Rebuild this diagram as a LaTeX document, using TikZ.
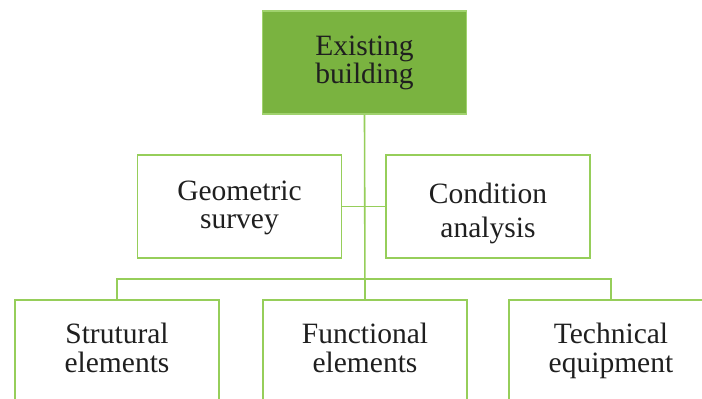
\documentclass[tikz,border=0pt]{standalone}
\usepackage{fontspec}
\setmainfont{Liberation Serif}
\begin{document}
\begin{tikzpicture}[x=1pt,y=-1pt,
  every node/.style={text=black!88},
  frame/.style={draw=edgegreen, line width=1.6pt, fill=white, rectangle,
    minimum width=204pt, minimum height=103pt, inner sep=0pt},
  rootbox/.style={frame, fill=rootgreen, draw=rootedge},
  label/.style={align=center, inner sep=0pt, text height=40pt, text depth=0pt,
    font=\fontsize{29.5}{#1}\selectfont},
  label/.default=28,
  wire/.style={draw=edgegreen, line width=1.6pt}]
\definecolor{edgegreen}{RGB}{150,206,90}
\definecolor{rootgreen}{RGB}{122,179,64}
\definecolor{rootedge}{RGB}{160,210,110}
\useasboundingbox (0,0) rectangle (702,399);
\clip (0,0) rectangle (702,399);
\fill[white] (0,0) rectangle (702,399);

% top of the hierarchy
\node[rootbox] (root) at (364.5,62.5) {};
\node[label] (roottxt) at (364.5,63) {Existing\\building};

% second level: survey and analysis
\node[frame] (geo) at (239.5,206.5) {};
\node[label] (geotxt) at (239.5,208) {Geometric\\survey};
\node[frame] (cond) at (488,206.5) {};
\node[label=34] (condtxt) at (488,217) {Condition\\analysis};

% third level: building elements
\node[frame] (strut) at (117,351.5) {};
\node[label=29] (struttxt) at (117,352) {Strutural\\elements};
\node[frame] (func) at (365,351.5) {};
\node[label=29] (functxt) at (365,352) {Functional\\elements};
\node[frame] (tech) at (611,351.5) {};
\node[label=29] (techtxt) at (611,352) {Technical\\equipment};

% connectors
\draw[wire] (root.south) -- (func.north);
\draw[wire] (geo.east) -- (cond.west);
\draw[wire] (strut.north) -- ++(0,-20) -| (tech.north);
\end{tikzpicture}
\end{document}
